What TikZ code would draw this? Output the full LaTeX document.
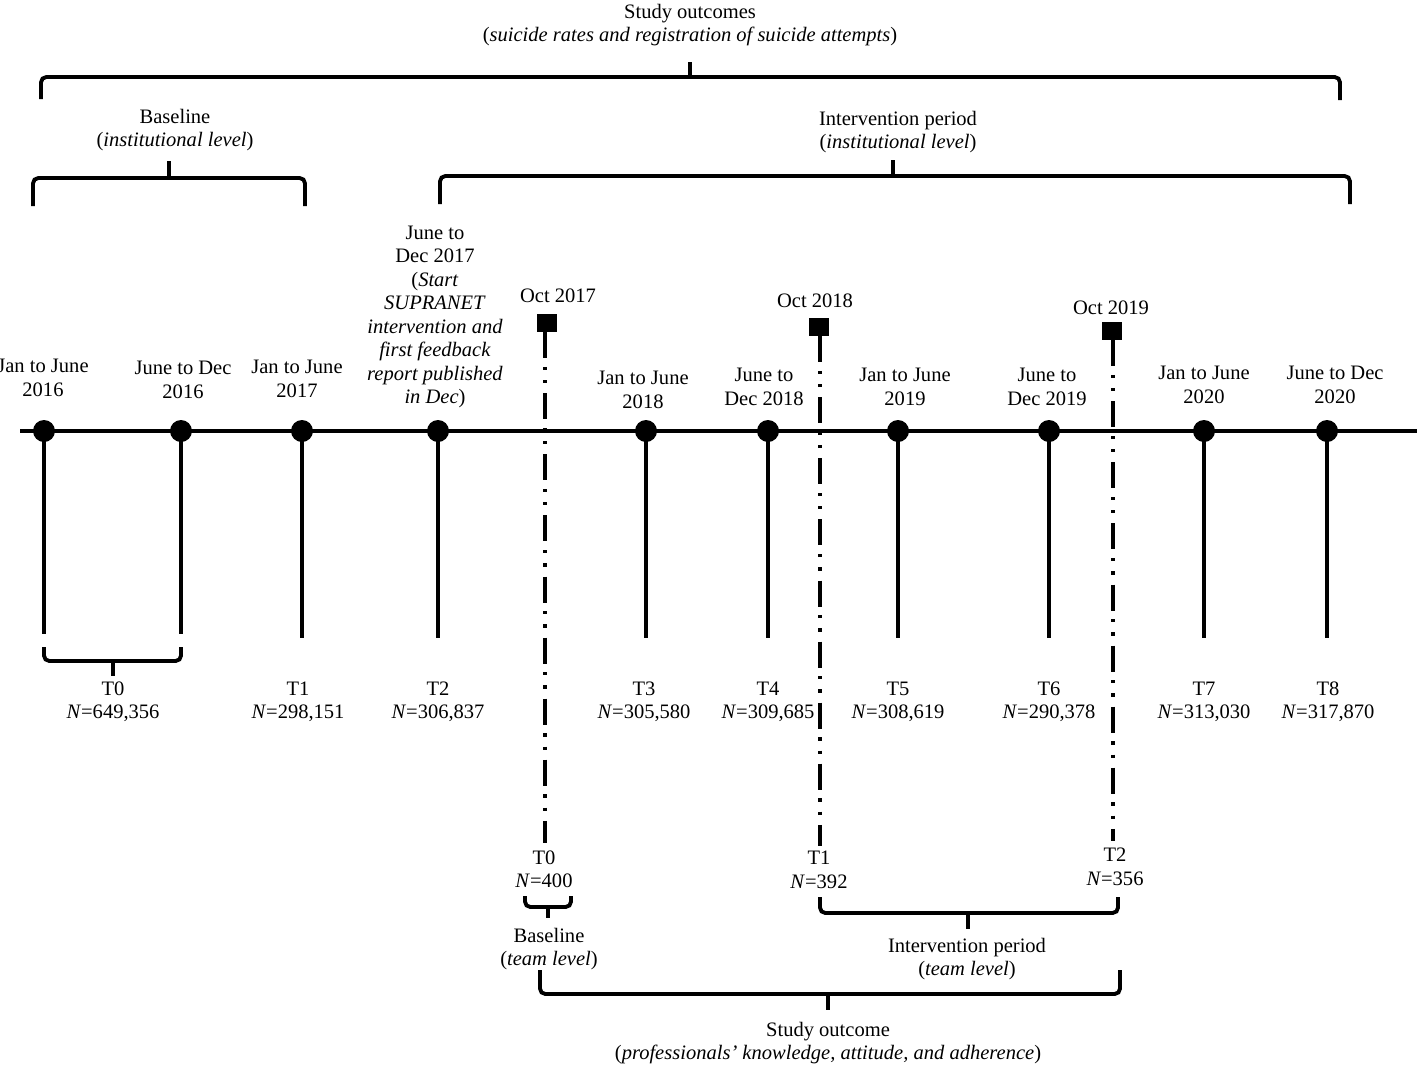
\documentclass[tikz,border=0pt]{standalone}
\usepackage{fontspec}
\setmainfont{Liberation Serif}
\usepackage{tikz}
\usetikzlibrary{positioning, calc}
\tikzset{
  lbl/.style={align=center,inner sep=0pt,
    font=\fontsize{15.4}{17.6}\selectfont},
  dotnode/.style={circle,fill=black,inner sep=0pt,minimum size=16.5pt},
  sqnode/.style={rectangle,fill=black,inner sep=0pt,
    minimum width=15pt,minimum height=13.5pt},
  timeline/.style={line width=2.4pt},
  stem/.style={line width=2.6pt},
  bracket/.style={line width=2.9pt,rounded corners=4pt},
  dashdot/.style={line width=2.6pt,
    dash pattern=on 19.5pt off 6.5pt on 2.4pt off 7.5pt on 2.4pt off 7.5pt}
}

\begin{document}
\begin{tikzpicture}[x=0.75pt,y=-0.75pt]
  \useasboundingbox (0,0) rectangle (1417,1075);

  % main time line
  \coordinate (tlL) at (20,431);
  \coordinate (tlR) at (1417,431);
  \draw[timeline] (tlL) -- (tlR);

  \node[dotnode] (d1) at (44,431) {};
  \node[dotnode] (d2) at (181,431) {};
  \node[dotnode] (d3) at (302,431) {};
  \node[dotnode] (d4) at (438,431) {};
  \node[dotnode] (d5) at (646,431) {};
  \node[dotnode] (d6) at (768,431) {};
  \node[dotnode] (d7) at (898,431) {};
  \node[dotnode] (d8) at (1049,431) {};
  \node[dotnode] (d9) at (1204,431) {};
  \node[dotnode] (d10) at (1327,431) {};

  \coordinate (s1) at (44,634);
  \coordinate (s2) at (181,634);
  \coordinate (s3) at (302,638);
  \coordinate (s4) at (438,638);
  \coordinate (s5) at (646,638);
  \coordinate (s6) at (768,638);
  \coordinate (s7) at (898,638);
  \coordinate (s8) at (1049,638);
  \coordinate (s9) at (1204,638);
  \coordinate (s10) at (1327,638);
  \draw[stem] (d1.center) -- (s1);
  \draw[stem] (d2.center) -- (s2);
  \draw[stem] (d3.center) -- (s3);
  \draw[stem] (d4.center) -- (s4);
  \draw[stem] (d5.center) -- (s5);
  \draw[stem] (d6.center) -- (s6);
  \draw[stem] (d7.center) -- (s7);
  \draw[stem] (d8.center) -- (s8);
  \draw[stem] (d9.center) -- (s9);
  \draw[stem] (d10.center) -- (s10);

  % dates above the time line
  \node[lbl] (a1) at (43,378) {Jan to June\\2016};
  \node[lbl] (a2) at (183,380) {June to Dec\\2016};
  \node[lbl] (a3) at (297,379) {Jan to June\\2017};
  \node[lbl] (a4) at (435,317) {June to\\Dec 2017\\(\textit{Start}\\\textit{SUPRANET}\\\textit{intervention and}\\\textit{first feedback}\\\textit{report published}\\\textit{in Dec})};
  \node[lbl] (a5) at (643,390) {Jan to June\\2018};
  \node[lbl] (a6) at (764,387) {June to\\Dec 2018};
  \node[lbl] (a7) at (905,387) {Jan to June\\2019};
  \node[lbl] (a8) at (1047,387) {June to\\Dec 2019};
  \node[lbl] (a9) at (1204,385) {Jan to June\\2020};
  \node[lbl] (a10) at (1335,385) {June to Dec\\2020};

  % sample sizes below
  \node[lbl] (t0) at (113,702) {T0\\\textit{N}=649,356};
  \node[lbl] (t1) at (298,702) {T1\\\textit{N}=298,151};
  \node[lbl] (t2) at (438,702) {T2\\\textit{N}=306,837};
  \node[lbl] (t3) at (644,702) {T3\\\textit{N}=305,580};
  \node[lbl] (t4) at (768,702) {T4\\\textit{N}=309,685};
  \node[lbl] (t5) at (898,702) {T5\\\textit{N}=308,619};
  \node[lbl] (t6) at (1049,702) {T6\\\textit{N}=290,378};
  \node[lbl] (t7) at (1204,702) {T7\\\textit{N}=313,030};
  \node[lbl] (t8) at (1328,702) {T8\\\textit{N}=317,870};

  % T0 bracket
  \draw[bracket] (44,647) -- (44,661) -- (181,661) -- (181,647);
  \draw[bracket] (113,661) -- (113,676);

  % team measurements
  \node[sqnode] (q1) at (547,323) {};
  \node[sqnode] (q2) at (819,327) {};
  \node[sqnode] (q3) at (1112,331) {};
  \node[lbl] (o1) at (558,296) {Oct 2017};
  \node[lbl] (o2) at (815,301) {Oct 2018};
  \node[lbl] (o3) at (1111,308) {Oct 2019};
  \coordinate (b1) at (545,843);
  \coordinate (b2) at (820,846);
  \coordinate (b3) at (1113,841);
  \draw[dashdot] (q1.south -| b1) -- (b1);
  \draw[dashdot] (q2.south -| b2) -- (b2);
  \draw[dashdot] (q3.south -| b3) -- (b3);
  \node[lbl] (m0) at (544,869) {T0\\\textit{N}=400};
  \node[lbl] (m1) at (819,870) {T1\\\textit{N}=392};
  \node[lbl] (m2) at (1115,867) {T2\\\textit{N}=356};

  % institutional brackets (top)
  \draw[bracket] (41,99) -- (41,77) -- (1340,77) -- (1340,100);
  \draw[bracket] (690,77) -- (690,62);
  \node[lbl] (so) at (690,25) {Study outcomes\\(\textit{suicide rates and registration of suicide attempts})};
  \draw[bracket] (33,206) -- (33,178) -- (305,178) -- (305,206);
  \draw[bracket] (169,178) -- (169,161);
  \node[lbl] (bi) at (175,130) {Baseline\\(\textit{institutional level})};
  \draw[bracket] (440,204) -- (440,176) -- (1350,176) -- (1350,204);
  \draw[bracket] (893,176) -- (893,160);
  \node[lbl] (ii) at (898,132) {Intervention period\\(\textit{institutional level})};

  % team level brackets (bottom)
  \draw[bracket] (525,896) -- (525,907) -- (571,907) -- (571,896);
  \draw[bracket] (548,907) -- (548,918);
  \node[lbl] (bt) at (549,949) {Baseline\\(\textit{team level})};
  \draw[bracket] (820,897) -- (820,913) -- (1118,913) -- (1118,897);
  \draw[bracket] (968,913) -- (968,929);
  \node[lbl] (it) at (967,959) {Intervention period\\(\textit{team level})};
  \draw[bracket] (540,970) -- (540,994) -- (1120,994) -- (1120,970);
  \draw[bracket] (828,994) -- (828,1010);
  \node[lbl] (st) at (828,1043) {Study outcome\\(\textit{professionals’ knowledge, attitude, and adherence})};
\end{tikzpicture}
\end{document}
